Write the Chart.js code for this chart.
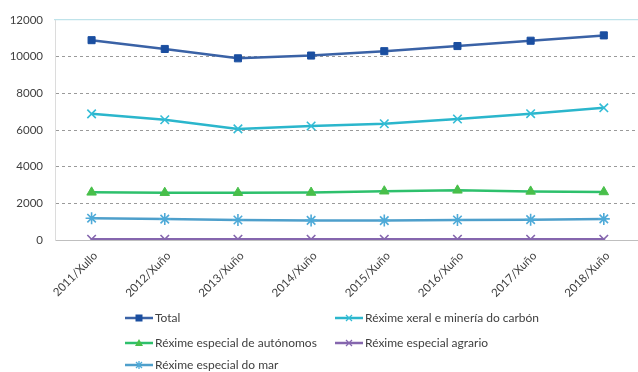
<!DOCTYPE html>
<html>
<head>
<meta charset="utf-8">
<script src="https://cdn.jsdelivr.net/npm/chart.js@4.4.1/dist/chart.umd.min.js"></script>
<style>
  html, body { margin:0; padding:0; background:#fff; overflow:hidden; width:638px; height:372px; }
  #wrap { position:relative; width:648px; height:372px; }
  #legend { position:absolute; left:0; top:0; width:638px; height:372px; pointer-events:none;
            font-family: Lato, "Liberation Sans", sans-serif; font-size:12px; color:#404040; }
  .li { position:absolute; display:flex; align-items:center; white-space:nowrap; }
  .li svg { margin-right:2px; }
</style>
</head>
<body>
<div id="wrap">
  <canvas id="c" width="648" height="372"></canvas>
  <div id="legend"></div>
</div>
<script>
const categories = ["2011/Xullo","2012/Xuño","2013/Xuño","2014/Xuño","2015/Xuño","2016/Xuño","2017/Xuño","2018/Xuño"];
const seriesNames = ["Total","Réxime xeral e minería do carbón","Réxime especial de autónomos","Réxime especial agrario","Réxime especial do mar"];
const total     = [10900, 10420, 9910, 10060, 10300, 10580, 10870, 11160];
const xeral     = [6880, 6560, 6060, 6220, 6340, 6600, 6890, 7210];
const autonomos = [2600, 2580, 2580, 2590, 2660, 2710, 2650, 2620];
const agrario   = [40, 40, 40, 40, 40, 40, 40, 40];
const mar       = [1190, 1140, 1090, 1070, 1060, 1090, 1110, 1150];
const yTicks    = [0, 2000, 4000, 6000, 8000, 10000, 12000];

const styles = [
  {line:'#3A62A6', mark:'#1A4EA0', shape:'rect', r:5},
  {line:'#2BB6CC', mark:'#33BCD6', shape:'crossRot', r:6},
  {line:'#2EC06C', mark:'#48BF4A', shape:'triangle', r:5.5},
  {line:'#8566AE', mark:'#8566AE', shape:'crossRot', r:6},
  {line:'#4E9FCB', mark:'#4EAAD8', shape:'star', r:6}
];
const values = [total, xeral, autonomos, agrario, mar];

const datasets = values.map((v,i)=>({
  label: seriesNames[i],
  data: v,
  borderColor: styles[i].line,
  backgroundColor: styles[i].mark,
  pointBackgroundColor: styles[i].mark,
  pointBorderColor: styles[i].mark,
  pointStyle: styles[i].shape,
  pointRadius: styles[i].r,
  pointBorderWidth: styles[i].shape==='rect' || styles[i].shape==='triangle' ? 1 : 1.6,
  borderWidth: 2.5,
  tension: 0,
  fill: false,
  order: i
}));

const font = { family: 'Lato, "Liberation Sans", sans-serif', size: 11.5 };

new Chart(document.getElementById('c'), {
  type: 'line',
  data: { labels: categories, datasets },
  options: {
    responsive: false,
    animation: false,
    layout: { padding: { top: 20, left: 0, right: 0, bottom: 72 } },
    plugins: { legend: { display: false }, tooltip: { enabled: false } },
    scales: {
      x: {
        offset: true,
        grid: { display: false },
        border: { display: true, color: '#bfbfbf', width: 1 },
        ticks: { color: '#404040', font, minRotation: 45, maxRotation: 45, autoSkip: false, padding: 1, labelOffset: 4 },
        afterFit: s => { s.height = 60; }
      },
      xTop: {
        position: 'top',
        offset: true,
        grid: { display: false },
        border: { display: true, color: '#bfe3ea', width: 1.2 },
        ticks: { display: false },
        afterFit: s => { s.height = 0; }
      },
      y: {
        min: 0, max: 12000,
        afterBuildTicks: s => { s.ticks = yTicks.map(v => ({ value: v })); },
        grid: { color: ctx => ctx.tick && (ctx.tick.value === 0 || ctx.tick.value === 12000) ? 'rgba(0,0,0,0)' : '#9a9a9a', lineWidth: 1, drawTicks: false },
        border: { display: true, color: '#dcdcdc', dash: [3, 3] },
        ticks: { color: '#404040', font, padding: 12, callback: v => String(v) },
        afterFit: s => { s.width = 55; }
      }
    }
  }
});

// HTML legend
const legendPos = [
  {x:125, y:317}, {x:335, y:317}, {x:125, y:342}, {x:335, y:342}, {x:125, y:364}
];
function markerSvg(st){
  const c = st.mark, cx = 14, cy = 6;
  let m = '';
  if (st.shape==='rect') m = `<rect x="${cx-3.5}" y="${cy-3.5}" width="7" height="7" fill="${c}"/>`;
  else if (st.shape==='triangle') m = `<polygon points="${cx},${cy-4} ${cx+4},${cy+3} ${cx-4},${cy+3}" fill="${c}"/>`;
  else if (st.shape==='crossRot') m = `<path d="M${cx-3},${cy-3}L${cx+3},${cy+3}M${cx+3},${cy-3}L${cx-3},${cy+3}" stroke="${c}" stroke-width="1.3"/>`;
  else m = `<path d="M${cx-3},${cy-3}L${cx+3},${cy+3}M${cx+3},${cy-3}L${cx-3},${cy+3}M${cx},${cy-4}L${cx},${cy+4}" stroke="${c}" stroke-width="1.3"/>`;
  return `<svg width="28" height="12"><line x1="0" y1="${cy}" x2="28" y2="${cy}" stroke="${st.line}" stroke-width="2.5"/>${m}</svg>`;
}
const lg = document.getElementById('legend');
seriesNames.forEach((n,i)=>{
  const d = document.createElement('div');
  d.className = 'li';
  d.style.left = legendPos[i].x + 'px';
  d.style.top = (legendPos[i].y - 7) + 'px';
  d.innerHTML = markerSvg(styles[i]) + '<span>' + n + '</span>';
  lg.appendChild(d);
});
</script>
</body>
</html>
